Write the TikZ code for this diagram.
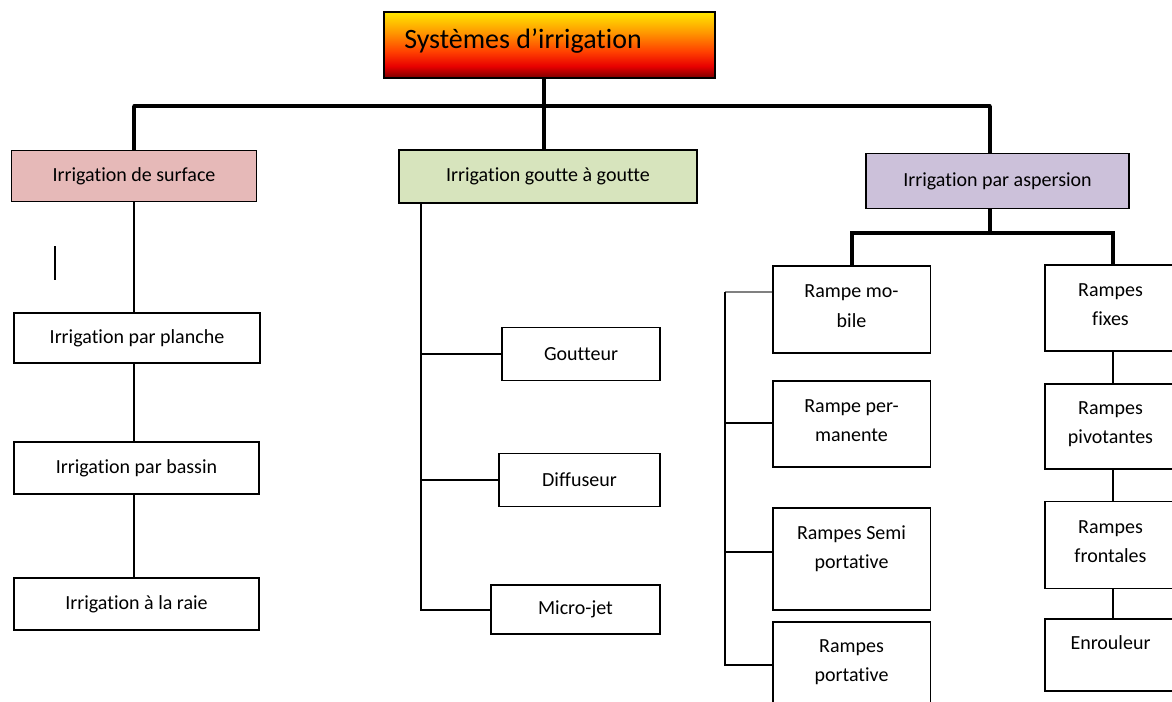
\documentclass[tikz,border=0pt]{standalone}
\usepackage{fontspec}
\setmainfont{Carlito}[RawFeature={-liga;-clig;-dlig}]
\definecolor{surfpink}{HTML}{E6B9B8}
\definecolor{gtgreen}{HTML}{D7E4BD}
\definecolor{asplav}{HTML}{CCC1DA}
\definecolor{tdark}{HTML}{7A0000}
\definecolor{tred}{HTML}{E80000}
\definecolor{tred2}{HTML}{FF4000}
\definecolor{torange}{HTML}{FF9A00}
\definecolor{tyellow}{HTML}{FFE800}
\pgfdeclareverticalshading{titleshade}{100bp}{color(0bp)=(tdark); color(25bp)=(tdark); color(34bp)=(tred); color(45bp)=(tred2); color(60bp)=(torange); color(75bp)=(tyellow); color(100bp)=(tyellow)}
\begin{document}
\begin{tikzpicture}[x=0.75pt,y=-0.75pt,
  box/.style={draw=black, line width=1.3pt, inner sep=0pt, font=\fontsize{15}{22}\selectfont},
  wh/.style 2 args={minimum width=#1*0.75pt, minimum height=#2*0.75pt},
  lbl/.style={align=center, inner sep=0pt, font=\fontsize{15}{22}\selectfont},
  conn/.style={line width=1.25pt},
  thickconn/.style={line width=2.5pt},
]
\useasboundingbox (0,0) rectangle (1172,701);
\clip (0,0) rectangle (1172,701);

% title
\node[box, shade, shading=titleshade, wh={331}{66}] (title) at (549.5,45) {};
\node[anchor=west, inner sep=0pt, font=\fontsize{21}{25}\selectfont] (titletxt) at (404,41) {Systèmes d’irrigation};

% level 1
\node[box, fill=surfpink, wh={245}{51}] (surf) at (134,176) {Irrigation de surface};
\node[box, fill=gtgreen, wh={298}{53}] (goutte) at (548,176.5) {Irrigation goutte à goutte};
\node[box, fill=asplav, wh={263}{55}] (asp) at (997.5,181) {Irrigation par aspersion};

% surface children
\node[box, wh={246}{50}] (planche) at (137,338) {Irrigation par planche};
\node[box, wh={245}{52}] (bassin) at (136.5,468) {Irrigation par bassin};
\node[box, wh={245}{52}] (raie) at (136.5,604) {Irrigation à la raie};

% goutte children
\node[box, wh={158}{53}] (gt) at (581,354) {Goutteur};
\node[box, wh={161}{53}] (diff) at (579.5,480) {Diffuseur};
\node[box, wh={169}{49}] (mj) at (575.5,609.5) {Micro-jet};

% aspersion left column
\node[box, wh={157.5}{87}] (mob) at (851.75,309.5) {};
\node[box, wh={157.5}{86}] (perm) at (851.75,424) {};
\node[box, wh={157.5}{102}] (semi) at (851.75,559) {};
\node[box, wh={157.5}{108}] (port) at (851.75,676) {};
\node[lbl] (mobt) at (851.5,306) {Rampe mo-\\bile};
\node[lbl] (permt) at (851.5,420.5) {Rampe per-\\manente};
\node[lbl] (semit) at (851.5,548.5) {Rampes Semi\\portative};
\node[lbl] (portt) at (851.5,662.5) {Rampes\\portative};

% aspersion right column
\node[box, wh={155}{86}] (fixes) at (1122.5,308) {};
\node[box, wh={155}{85}] (piv) at (1122.5,426.5) {};
\node[box, wh={155}{87}] (front) at (1122.5,545) {};
\node[box, wh={155}{72}] (enr) at (1122.5,655) {};
\node[lbl] (fixest) at (1110.5,304.5) {Rampes\\fixes};
\node[lbl] (pivt) at (1110.5,424) {Rampes\\pivotantes};
\node[lbl] (frontt) at (1110.5,541.5) {Rampes\\frontales};
\node[lbl] (enrt) at (1110.5,643) {Enrouleur};

% top connectors
\coordinate (hl) at (134,106);
\coordinate (hm) at (544,106);
\coordinate (hr) at (990,106);
\draw[thickconn] (hm |- title.south) -- (hm);
\draw[thickconn, line cap=round] (hl) -- (hr);
\draw[thickconn] (hl) -- (hl |- surf.north);
\draw[thickconn] (hm) -- (hm |- goutte.north);
\draw[thickconn] (hr) -- (hr |- asp.north);

% surface chain
\draw[conn] (surf.south) -- (surf.south |- planche.north);
\draw[conn] (surf.south |- planche.south) -- (surf.south |- bassin.north);
\draw[conn] (surf.south |- bassin.south) -- (surf.south |- raie.north);
\draw[line width=2pt] (55,246) -- (55,280);

% goutte tree
\coordinate (gv) at (421,610);
\draw[conn] (gv |- goutte.south) -- (gv) -- (gv -| mj.west);
\draw[conn] (gv |- gt.west) -- (gt.west);
\draw[conn] (gv |- diff.west) -- (diff.west);

% aspersion tree
\coordinate (av) at (990,233);
\coordinate (al) at (852,233);
\coordinate (ar) at (1113,233);
\draw[thickconn] (av |- asp.south) -- (av);
\draw[thickconn] (al |- mob.north) -- (al) -- (ar) -- (ar |- fixes.north);

\coordinate (l1) at (725,292);
\coordinate (l2) at (725,423);
\coordinate (l3) at (725,552);
\coordinate (l4) at (725,665);
\draw[conn, gray] (l1 -| mob.west) -- (l1);
\draw[conn] (l1) -- (l4) -- (l4 -| port.west);
\draw[conn] (l2) -- (l2 -| perm.west);
\draw[conn] (l3) -- (l3 -| semi.west);

\draw[conn] (ar |- fixes.south) -- (ar |- piv.north);
\draw[conn] (ar |- piv.south) -- (ar |- front.north);
\draw[conn] (ar |- front.south) -- (ar |- enr.north);
\end{tikzpicture}
\end{document}
